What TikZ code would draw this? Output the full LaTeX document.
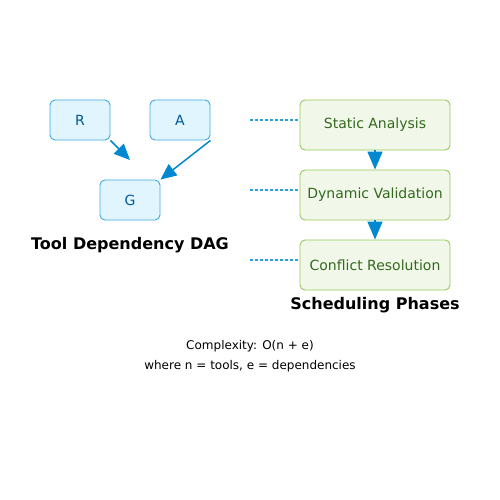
\documentclass[tikz,border=0pt]{standalone}
\usepackage{fontspec}
\setmainfont{DejaVu Sans}
\usetikzlibrary{arrows.meta}
\definecolor{tfill}{HTML}{E1F5FE}
\definecolor{tdraw}{HTML}{3FA9E0}
\definecolor{ttext}{HTML}{01579B}
\definecolor{pfill}{HTML}{F1F8E9}
\definecolor{pdraw}{HTML}{8BC34A}
\definecolor{ptext}{HTML}{33691E}
\definecolor{arr}{HTML}{0288D1}
\definecolor{dotc}{HTML}{29A0DA}
\tikzset{
  toolbox/.style={draw=tdraw, fill=tfill, rounded corners=5pt, line width=0.9pt, minimum width=60pt, minimum height=40pt, text=ttext, font=\fontsize{14}{16}\selectfont, inner sep=0pt},
  phasebox/.style={draw=pdraw!90, fill=pfill, rounded corners=5pt, line width=0.9pt, minimum width=150pt, minimum height=50pt, text=ptext, font=\fontsize{14}{16}\selectfont, inner sep=0pt},
  dep/.style={draw=arr, line width=1.5pt, -{Triangle[length=16pt,width=14pt]}},
  flow/.style={draw=arr, line width=1.5pt, -{Triangle[length=18pt,width=15pt]}},
  link/.style={draw=dotc, line width=1.2pt, dash pattern=on 3pt off 2pt},
  heading/.style={font=\bfseries\fontsize{16}{19}\selectfont, text=black},
  note/.style={font=\fontsize{12}{14}\selectfont, text=black}
}
\begin{document}
\begin{tikzpicture}[x=1pt,y=-1pt]
\useasboundingbox (0,0) rectangle (500,500);
\node[toolbox] (R) at (80,120) {R};
\node[toolbox] (A) at (180,120) {A};
\node[toolbox] (G) at (130,200) {G};
\coordinate (rg) at (130,160);
\draw[dep] (R.south east) -- (rg);
\draw[dep] (A.south east) -- (G.north east);
\node[heading] (t1) at (130,245) {Tool Dependency DAG};

\node[phasebox] (P1) at (375,125) {Static Analysis};
\node[phasebox] (P2) at (375,195) {Dynamic Validation};
\node[phasebox] (P3) at (375,265) {Conflict Resolution};
\draw[flow] (P1.south) -- (P2.north);
\draw[flow] (P2.south) -- (P3.north);
\coordinate (d1) at (250,120);
\coordinate (d2) at (250,190);
\coordinate (d3) at (250,260);
\draw[link] (d1) -- (P1.west |- d1);
\draw[link] (d2) -- (P2.west |- d2);
\draw[link] (d3) -- (P3.west |- d3);
\node[heading] (t2) at (375,305) {Scheduling Phases};

\node[note] (c1) at (250,346) {Complexity: O(n + e)};
\node[note] (c2) at (250,366) {where n = tools, e = dependencies};
\end{tikzpicture}
\end{document}
